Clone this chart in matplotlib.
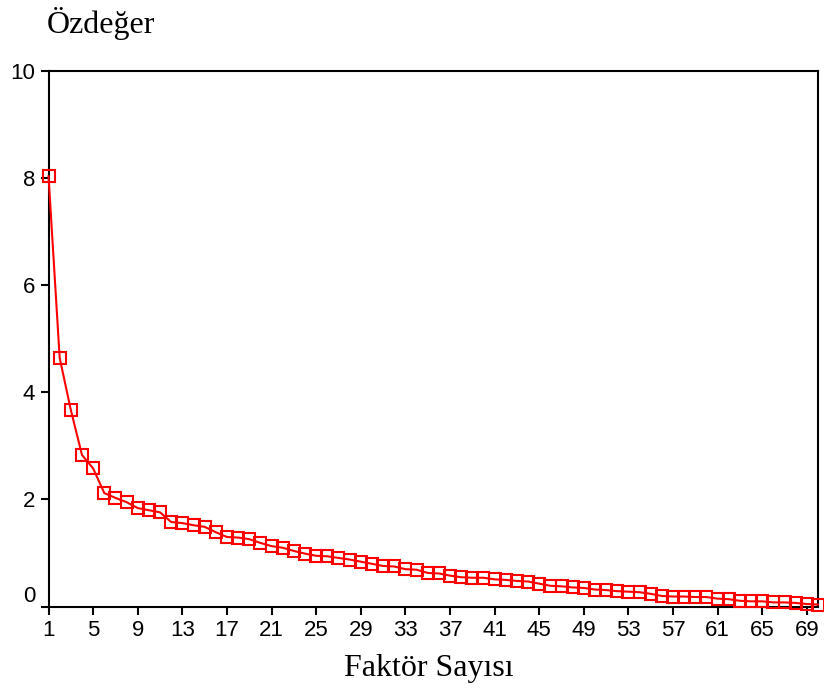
import numpy as np
import matplotlib
matplotlib.use("Agg")
import matplotlib.pyplot as plt

# eigenvalues
factors = np.arange(1, 71)
eigenvalues = [
    8.03, 4.64, 3.67, 2.83, 2.58, 2.12, 2.03, 1.95, 1.84, 1.80,
    1.76, 1.58, 1.56, 1.52, 1.49, 1.39, 1.30, 1.29, 1.26, 1.19,
    1.13, 1.10, 1.04, 0.99, 0.95, 0.94, 0.91, 0.88, 0.84, 0.80,
    0.76, 0.75, 0.70, 0.69, 0.63, 0.62, 0.58, 0.55, 0.54, 0.54,
    0.51, 0.50, 0.48, 0.47, 0.43, 0.39, 0.38, 0.36, 0.35, 0.32,
    0.31, 0.29, 0.28, 0.27, 0.24, 0.20, 0.19, 0.19, 0.18, 0.18,
    0.15, 0.14, 0.11, 0.10, 0.10, 0.08, 0.08, 0.07, 0.05, 0.04,
]
xticks = list(range(1, 70, 4))
yticks = [0, 2, 4, 6, 8, 10]

fig = plt.figure(figsize=(8.24, 6.91), dpi=100)
ax = fig.add_axes([0.0589, 0.122, 0.9338, 0.7757])

ax.plot(factors, eigenvalues, color="red", lw=1.5, marker="s", markersize=9,
        markerfacecolor="none", markeredgecolor="red", markeredgewidth=1.5,
        clip_on=False, zorder=3)

ax.set_xlim(1, 70)
ax.set_ylim(0, 10)
ax.set_xticks(xticks)
ax.set_yticks(yticks)
ax.tick_params(labelsize=16, length=6, width=1.5, direction="out",
               labelfontfamily="Liberation Sans")
for s in ax.spines.values():
    s.set_linewidth(1.5)
ax.get_yticklabels()[0].set_va("bottom")

serif = "Liberation Serif"
fig.text(47 / 824, 1 - 33 / 691, "Özdeğer", fontsize=23, family=serif,
         ha="left", va="baseline")
fig.text(429 / 824, 1 - 676 / 691, "Faktör Sayısı", fontsize=23, family=serif,
         ha="center", va="baseline")

fig.savefig("out.png", dpi=100)
